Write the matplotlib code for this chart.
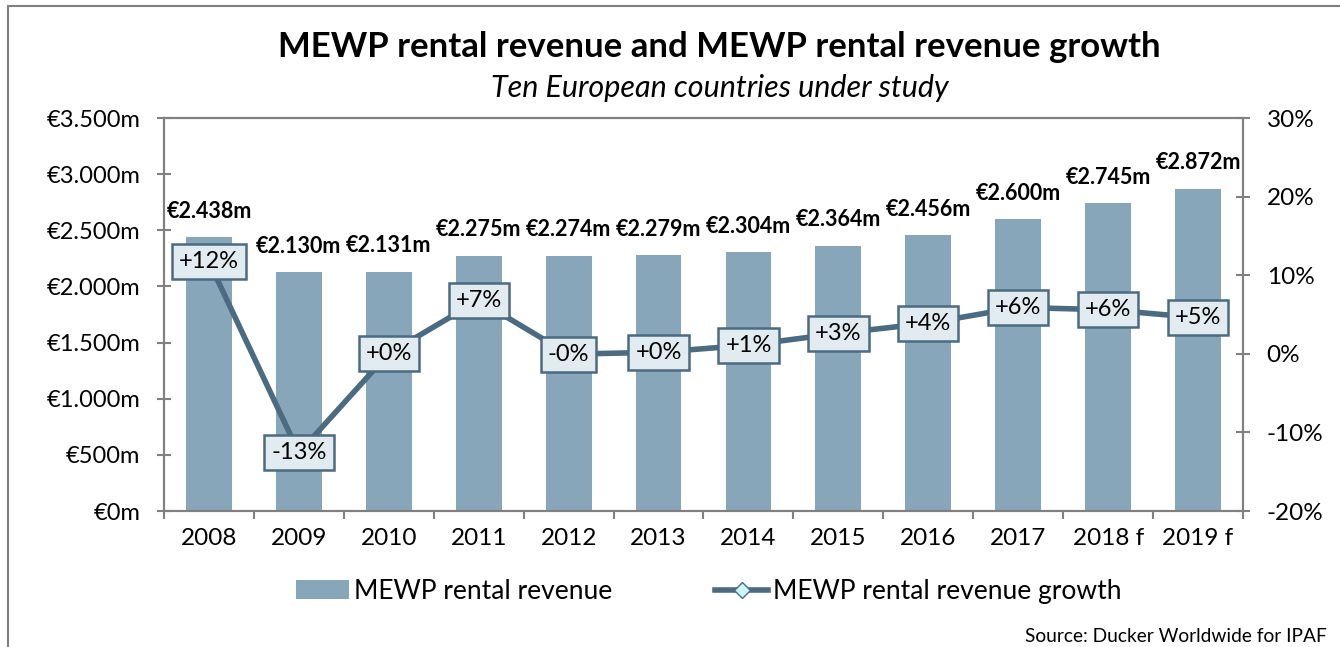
import numpy as np
import matplotlib.pyplot as plt
from matplotlib.patches import Rectangle
from matplotlib.lines import Line2D
from matplotlib.patches import Patch

plt.rcParams['font.family'] = ['Lato', 'DejaVu Sans']

# Datos del gráfico
anios = ['2008', '2009', '2010', '2011', '2012', '2013', '2014', '2015', '2016', '2017', '2018 f', '2019 f']
ingresos = [2438, 2130, 2131, 2275, 2274, 2279, 2304, 2364, 2456, 2600, 2745, 2872]
crecimiento = [11.7, -12.6, 0.05, 6.8, -0.05, 0.2, 1.1, 2.6, 3.9, 5.9, 5.6, 4.6]
etiquetas_crec = ['+12%', '-13%', '+0%', '+7%', '-0%', '+0%', '+1%', '+3%', '+4%', '+6%', '+6%', '+5%']
etiquetas_ing = ['€2.438m', '€2.130m', '€2.131m', '€2.275m', '€2.274m', '€2.279m',
                 '€2.304m', '€2.364m', '€2.456m', '€2.600m', '€2.745m', '€2.872m']

color_barra = '#87a6b9'
color_linea = '#4b6b80'
color_eje = '#808080'

fig = plt.figure(figsize=(13.4, 6.47), dpi=100)
ax = fig.add_axes([0.1224, 0.2102, 0.8052, 0.6074])
ax2 = ax.twinx()

x = np.arange(len(anios))
ax.bar(x, ingresos, width=0.51, color=color_barra, zorder=2)
ax.set_xlim(-0.5, len(anios) - 0.5)
ax.set_ylim(0, 3500)
ax.set_yticks(np.arange(0, 3501, 500))
ax.set_yticklabels(['€0m', '€500m', '€1.000m', '€1.500m', '€2.000m', '€2.500m', '€3.000m', '€3.500m'])
ax.set_xticks(x)
ax.set_xticklabels(anios)
ax.set_xticks(np.arange(-0.5, len(anios), 1), minor=True)
ax.tick_params(axis='x', which='major', length=0, labelsize=17.5, pad=12)
ax.tick_params(axis='x', which='minor', length=6, width=1.5, color=color_eje, direction='out')
ax.tick_params(axis='y', labelsize=17, length=10, width=1.5, color=color_eje, direction='inout', pad=12)

for i, v in enumerate(ingresos):
    ax.annotate(etiquetas_ing[i], (x[i], v), xytext=(0, 11), textcoords='offset points',
                ha='center', va='bottom', fontsize=15.5, fontweight='bold')

ax2.plot(x, crecimiento, color=color_linea, linewidth=4, marker='D', markersize=7,
         markerfacecolor='#ccf5fa', markeredgecolor=color_linea, zorder=3)
ax2.set_ylim(-20, 30)
ax2.set_yticks(np.arange(-20, 31, 10))
ax2.set_yticklabels([f'{t}%' for t in range(-20, 31, 10)])
ax2.tick_params(axis='y', labelsize=17.5, length=10, width=1.5, color=color_eje, direction='inout', pad=12)

for i, v in enumerate(crecimiento):
    ax2.text(x[i], v, etiquetas_crec[i], ha='center', va='center', fontsize=17, zorder=5,
             bbox=dict(boxstyle='square,pad=0.3', facecolor='#e1ebf0', edgecolor=color_linea, linewidth=1.8))

for a in (ax, ax2):
    for lado in a.spines.values():
        lado.set_color(color_eje)
        lado.set_linewidth(1.5)

fig.text(0.537, 0.927, 'MEWP rental revenue and MEWP rental revenue growth',
         ha='center', va='center', fontsize=25, fontweight='bold')
fig.text(0.537, 0.864, 'Ten European countries under study',
         ha='center', va='center', fontsize=22, style='italic')

manejadores = [Patch(facecolor=color_barra, label='MEWP rental revenue'),
               Line2D([0], [0], color=color_linea, linewidth=4, marker='D', markersize=8,
                      markerfacecolor='#ccf5fa', markeredgecolor=color_linea,
                      label='MEWP rental revenue growth')]
fig.legend(handles=manejadores, loc='center', bbox_to_anchor=(0.529, 0.086), ncol=2,
           frameon=False, fontsize=19, handlelength=2.0, columnspacing=3.9, handletextpad=0.2)

fig.text(0.99, 0.016, 'Source: Ducker Worldwide for IPAF', ha='right', va='center', fontsize=13.8)

fig.patches.append(Rectangle((8 / 1340, -0.1), 1.2, 1.1 - 6 / 647, transform=fig.transFigure,
                             fill=False, edgecolor=color_eje, linewidth=1.5))

fig.savefig('out.png', dpi=100)
